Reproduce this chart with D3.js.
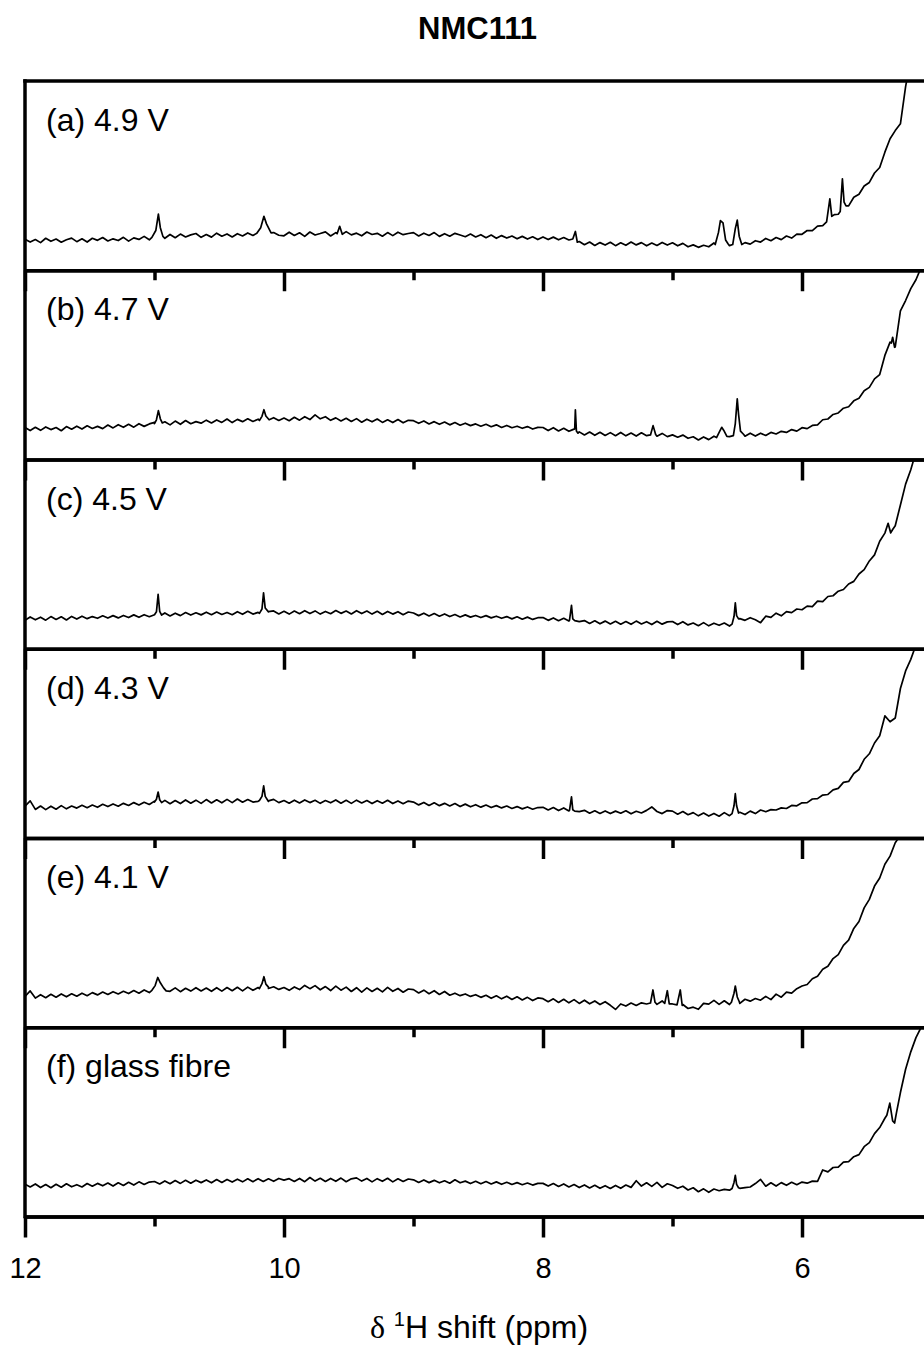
<!DOCTYPE html>
<html>
<head>
<meta charset="utf-8">
<script src="https://cdn.jsdelivr.net/npm/d3@7"></script>
<style>
  body { margin: 0; background: #fff; }
  svg { display: block; }
  text { font-family: "Liberation Sans", Arial, Helvetica, sans-serif; fill: #000; }
</style>
</head>
<body>
<svg id="chart" width="924" height="1347"></svg>
<script>
// ---- Chart text ----
const chartTitle = "NMC111";
const panelLabels = ["(a) 4.9 V", "(b) 4.7 V", "(c) 4.5 V", "(d) 4.3 V", "(e) 4.1 V", "(f) glass fibre"];
const majorTicks = [12, 10, 8, 6];
const minorTicks = [11, 9, 7];

// ---- Sampled chemical-shift axis: 12.00 ppm down to 5.04 ppm, 0.04 ppm apart ----
const gridPpm = d3.range(175).map(i => +(12 - i * 0.04).toFixed(2));

// ---- Baseline intensities on the sampled axis (one row per ppm) ----
const baseA = [
  16.4,14.9,16.2,14.6,16.9,15.3,16.5,14.8,16.1,17.0,15.1,16.6,14.9,16.9,15.8,17.3,15.5,16.6,15.7,17.4,15.4,17.1,16.3,17.9,16.1,
  17.5,17.9,16.9,18.9,17.2,19.1,17.6,18.7,19.4,17.4,18.9,17.5,19.6,18.0,19.2,17.6,19.3,18.1,19.7,18.4,19.3,19.8,19.0,19.9,18.5,
  18.2,20.1,18.4,19.8,17.9,20.2,18.6,19.4,20.3,18.1,19.9,18.5,20.4,18.7,19.6,18.2,20.2,18.9,19.5,18.0,19.9,18.3,20.1,18.8,19.4,
  19.9,18.1,19.6,18.4,19.9,17.9,19.3,18.0,19.5,18.6,17.7,19.1,17.6,18.8,17.2,18.6,16.9,18.3,17.0,18.1,16.6,17.9,16.5,17.7,16.2,
  17.6,16.2,17.5,16.1,17.3,16.0,16.4,15.2,13.5,14.9,13.1,14.6,13.3,14.8,13.0,14.5,13.2,14.9,13.4,14.6,12.9,14.4,13.1,14.7,13.3,
  14.5,12.9,14.2,12.4,13.4,12.1,13.2,12.4,14.4,14.0,14.0,13.0,13.6,13.6,14.6,13.8,15.6,14.9,16.8,15.6,17.3,16.2,18.1,17.0,19.1,
  19.0,21.0,20.9,23.3,23.6,26.0,28.0,29.6,32.0,34.0,38.6,40.2,44.5,46.4,51.4,54.3,62.4,69.5,73.8,77.4,97.0,112,125,140,155
];
const baseB = [
  16.9,15.3,17.0,15.4,17.2,15.8,16.9,15.2,17.4,16.0,17.6,16.1,17.8,16.4,17.5,16.3,18.2,16.7,18.4,17.0,18.6,17.1,18.9,17.5,18.8,
  19.6,18.0,19.9,18.3,20.3,18.6,20.6,18.9,20.0,19.2,20.8,19.3,20.9,19.6,21.4,19.5,21.2,20.0,21.5,20.1,21.3,20.8,21.0,22.1,20.6,
  21.9,20.5,22.3,20.8,22.6,21.1,23.6,21.5,22.6,20.7,22.0,20.4,21.8,20.1,21.6,19.7,21.3,19.9,21.4,19.6,21.0,19.5,21.1,19.4,20.7,
  20.5,19.1,20.4,18.8,20.0,18.6,19.8,18.3,19.5,18.1,19.2,17.9,18.8,17.6,18.6,17.3,18.3,16.9,18.0,16.8,17.6,16.5,17.4,16.1,17.0,
  16.9,15.3,16.8,15.1,16.5,14.9,16.0,14.6,13.0,14.5,12.8,14.4,12.7,14.2,12.6,14.3,12.5,14.0,12.4,14.1,12.6,13.4,12.3,13.8,12.1,
  13.0,11.8,12.9,11.2,12.0,10.3,11.9,10.5,12.3,12.4,11.9,12.1,12.9,13.5,12.3,13.9,12.4,13.9,12.7,14.3,13.5,14.9,14.3,15.8,15.0,
  16.8,16.3,18.0,18.3,21.0,21.4,23.8,24.6,27.1,27.9,31.0,32.4,36.3,38.1,42.6,44.9,55.0,62.0,59.5,78.5,84.0,90.3,95.0,101.5,106
];
const baseC = [
  15.0,16.8,15.3,16.7,15.1,17.0,15.5,16.9,15.2,17.1,15.7,17.2,15.9,17.0,16.1,17.4,16.2,17.5,16.3,17.6,16.5,17.9,16.6,18.0,16.9,
  18.0,17.6,18.9,17.3,18.8,17.5,19.1,17.8,19.0,17.9,19.3,18.0,19.4,18.1,19.2,18.0,19.6,18.2,19.8,18.3,19.2,18.8,19.5,20.0,18.4,
  19.8,18.3,19.9,18.5,20.1,18.6,20.0,18.3,19.7,18.5,20.2,18.7,19.9,18.4,20.1,18.6,19.9,18.3,19.8,18.1,19.7,18.3,19.6,18.0,19.4,
  18.9,17.5,18.8,17.3,18.6,17.2,18.4,17.0,18.1,16.8,17.9,16.7,17.6,16.5,17.5,16.3,17.2,16.1,17.0,15.8,16.9,15.6,16.7,15.5,16.4,
  16.5,15.0,16.3,14.8,16.1,14.6,15.8,14.3,14.9,13.4,14.8,13.2,14.6,13.1,14.5,13.0,14.4,12.9,14.6,13.1,14.3,12.8,14.5,13.0,14.2,
  14.4,12.8,14.3,12.6,13.6,12.2,13.8,12.1,13.5,12.4,13.6,12.0,13.0,15.9,15.0,16.4,15.3,13.8,17.2,16.6,18.8,17.4,19.6,19.1,21.0,
  20.6,22.5,22.3,25.2,24.9,27.6,28.0,30.4,31.3,34.2,35.6,39.5,41.8,46.4,49.6,56.8,61.1,66.5,65.0,76.0,87.0,94.6,104,112,120
];
const baseD = [
  16.8,19.6,15.1,16.9,15.0,16.8,15.2,17.1,15.4,16.9,15.8,17.3,16.0,17.4,16.2,17.8,16.6,18.0,16.8,18.3,17.2,18.7,17.4,18.9,17.7,
  19.5,18.6,19.9,18.1,19.8,18.2,20.1,18.4,20.0,18.3,20.3,18.5,20.2,18.6,20.4,18.7,20.6,18.9,20.3,19.0,19.4,20.1,19.3,20.4,18.7,
  19.8,18.4,20.0,18.5,20.1,18.7,19.9,18.3,19.8,18.6,20.1,18.4,19.9,18.3,20.0,18.5,19.8,18.2,19.7,18.4,19.9,18.2,19.6,18.1,19.5,
  19.0,17.5,18.8,17.2,18.6,17.1,18.3,16.9,18.2,16.6,17.9,16.5,17.6,16.3,17.4,16.1,17.1,15.9,16.9,15.6,16.6,15.4,16.4,15.2,16.1,
  16.2,14.8,16.1,14.5,15.9,14.3,15.6,13.9,14.6,13.1,14.4,13.0,14.3,12.9,14.2,13.1,14.4,12.8,14.1,13.2,14.6,16.4,14.0,12.9,14.5,
  14.2,12.6,14.0,12.3,13.4,11.7,13.2,11.6,13.0,11.5,13.4,11.8,13.0,13.6,12.4,14.2,12.9,14.8,13.9,15.0,14.8,15.9,15.6,17.2,17.0,
  18.6,18.7,20.6,20.8,22.7,23.0,25.4,26.2,29.4,29.9,34.1,36.2,41.6,44.5,50.2,54.0,64.5,61.4,63.4,79.0,88.3,94.4,102,110,118
];
const baseE = [
  16.3,19.2,15.4,17.2,15.6,17.4,15.9,17.6,16.1,17.7,16.4,18.0,16.7,18.3,17.1,18.6,17.3,18.8,17.6,19.0,17.8,19.4,18.0,19.7,18.3,
  19.9,19.3,21.1,19.0,20.8,18.8,20.6,19.1,20.9,19.2,20.7,19.0,20.9,19.1,21.0,19.3,21.1,19.2,21.2,19.5,21.0,20.4,21.2,21.4,20.0,
  21.0,19.5,21.3,19.9,22.1,20.4,22.0,19.8,21.5,19.4,21.7,19.6,21.2,18.9,20.9,18.6,20.8,18.9,20.6,18.7,21.1,19.0,20.5,18.5,20.2,
  19.9,18.1,19.6,17.7,19.3,17.3,18.9,16.9,18.0,16.7,17.6,16.3,17.2,15.8,16.9,15.3,16.6,15.0,16.4,14.7,16.1,14.4,15.8,14.1,15.5,
  15.1,13.5,15.0,13.1,14.8,12.9,14.6,12.6,14.3,12.4,13.9,12.0,13.5,11.6,9.4,12.3,11.2,12.8,11.5,12.9,12.3,13.2,12.1,13.9,12.6,
  12.3,11.2,12.0,9.9,10.6,9.5,12.6,12.2,14.2,12.1,14.0,12.0,14.4,12.6,14.8,13.8,15.2,14.3,16.3,14.6,17.5,15.9,18.6,18.0,20.4,
  21.8,22.6,25.6,27.0,30.6,32.2,36.3,38.4,43.3,46.0,52.2,55.9,63.1,67.6,74.6,78.9,86.1,90.4,97.5,101.5,108,114,120,126,132
];
const baseF = [
  17.1,15.6,17.2,15.3,16.9,15.2,17.0,15.5,17.3,15.7,16.8,15.6,17.4,16.0,17.5,16.2,17.7,16.1,17.8,16.4,18.1,16.6,18.3,16.9,18.2,
  18.5,17.2,18.8,17.3,19.0,17.5,19.1,17.6,19.2,17.9,19.3,17.8,19.5,18.0,19.6,18.2,19.7,18.3,19.9,18.4,20.0,18.5,19.9,18.6,20.1,
  19.2,20.0,18.5,20.1,18.4,20.6,18.7,20.2,18.5,20.1,18.6,20.3,18.4,19.9,20.4,18.7,20.1,18.3,20.0,18.6,20.2,18.3,19.9,18.5,19.8,
  19.4,18.0,19.3,17.9,19.1,17.8,18.9,17.6,19.4,17.8,18.7,17.4,18.6,17.3,18.5,17.2,18.3,17.0,18.1,16.9,17.9,16.8,17.7,16.6,17.5,
  17.5,16.1,17.4,15.9,17.2,15.6,16.9,15.3,16.7,15.1,16.5,14.9,16.3,14.8,16.4,14.9,16.6,15.4,18.9,16.1,17.8,15.9,18.0,15.4,17.3,
  16.4,14.9,16.0,14.0,15.2,13.1,14.6,12.8,14.5,13.6,14.3,13.9,15.0,14.9,15.3,15.6,17.4,19.6,16.0,17.8,16.1,17.9,16.5,18.1,16.8,
  18.2,17.6,18.7,18.6,24.6,23.6,25.9,26.1,28.7,29.0,31.6,32.7,36.9,39.0,43.8,47.0,51.9,57.0,52.8,65.5,77.8,87.0,94.5,100.0,107
];

// ---- Narrow resonances: [ppm, intensity] points that replace the baseline over their span ----
const peaksA = [
  [[11.02,17.4],[10.99,21.0],[10.97,29.7],[10.955,22.5],[10.935,17.9]],
  [[10.21,19.5],[10.18,22.5],[10.155,28.5],[10.135,24.5],[10.10,19.8]],
  [[9.59,19.3],[9.57,23.2],[9.55,19.0]],
  [[7.77,16.5],[7.75,20.5],[7.735,14.8]],
  [[6.67,13.6],[6.645,20.0],[6.63,26.2],[6.61,25.0],[6.59,16.0],[6.57,13.9]],
  [[6.535,13.6],[6.515,22.0],[6.50,26.5],[6.485,18.0],[6.465,13.6]],
  [[5.81,25.5],[5.785,37.7],[5.77,28.5],[5.75,29.4]],
  [[5.705,31.0],[5.688,48.3],[5.675,36.0],[5.66,34.0]]
];
const peaksB = [
  [[11.00,18.9],[10.985,21.0],[10.97,25.8],[10.955,21.5],[10.94,19.3]],
  [[10.19,20.6],[10.17,22.8],[10.155,26.3],[10.14,23.0],[10.115,21.0]],
  [[7.77,15.8],[7.755,16.2],[7.75,26.3],[7.742,15.0],[7.73,13.9]],
  [[7.17,13.0],[7.15,17.9],[7.13,13.2]],
  [[6.66,11.6],[6.635,15.0],[6.62,17.0],[6.605,15.5],[6.58,12.2]],
  [[6.53,12.6],[6.515,19.0],[6.50,32.0],[6.49,24.0],[6.475,15.0],[6.45,13.2]],
  [[5.31,61.5],[5.30,64.6],[5.285,59.3]]
];
const peaksC = [
  [[11.00,18.0],[10.985,19.5],[10.972,28.7],[10.96,19.8],[10.945,17.8]],
  [[10.19,18.7],[10.17,21.0],[10.158,29.5],[10.145,21.5],[10.12,19.6]],
  [[7.795,15.2],[7.78,22.9],[7.77,15.8],[7.755,14.9]],
  [[6.54,13.0],[6.525,17.0],[6.515,24.2],[6.505,17.5],[6.49,15.8]],
  [[5.335,66.3],[5.315,61.2],[5.30,63.0]]
];
const peaksD = [
  [[11.00,19.0],[10.985,20.5],[10.972,24.3],[10.96,20.2],[10.945,18.7]],
  [[10.19,19.8],[10.17,22.0],[10.157,27.5],[10.145,22.0],[10.12,19.6]],
  [[7.795,14.7],[7.78,21.7],[7.77,14.9],[7.755,14.2]],
  [[6.54,12.9],[6.525,17.0],[6.515,23.4],[6.505,17.0],[6.49,13.2]]
];
const peaksE = [
  [[11.02,19.5],[10.995,22.0],[10.975,26.3],[10.955,23.5],[10.93,20.8],[10.91,19.2]],
  [[10.19,20.4],[10.17,23.0],[10.155,26.7],[10.14,22.8],[10.12,20.5]],
  [[7.17,12.8],[7.151,19.7],[7.135,13.2]],
  [[7.06,12.6],[7.04,19.3],[7.025,12.4]],
  [[6.965,11.8],[6.94,19.7],[6.925,11.5]],
  [[6.545,13.2],[6.525,18.0],[6.515,21.8],[6.50,16.0],[6.485,13.6]]
];
const peaksF = [
  [[6.54,14.8],[6.525,18.0],[6.515,21.7],[6.505,17.0],[6.49,15.2]],
  [[5.345,53.5],[5.322,59.9],[5.30,50.5],[5.285,49.4],[5.27,55.0]]
];

const baselines = [baseA, baseB, baseC, baseD, baseE, baseF];
const peakSets = [peaksA, peaksB, peaksC, peaksD, peaksE, peaksF];

// Merge the sampled baseline with the resonance points, sorted by decreasing ppm.
function buildSeries(base, peaks) {
  let pts = gridPpm.map((p, i) => [p, base[i]]);
  peaks.forEach(pk => {
    const hi = pk[0][0], lo = pk[pk.length - 1][0];
    pts = pts.filter(d => !(d[0] < hi && d[0] > lo)).concat(pk);
  });
  return pts.sort((a, b) => b[0] - a[0]);
}

// ---- Layout ----
const W = 924, H = 1347;
const axisX = 25, plotTop = 81, panelH = 189.25, nPanels = 6;
const frameW = 3.5;

const svg = d3.select("#chart");
const x = d3.scaleLinear().domain([12, 5]).range([axisX, axisX + 7 * 129.5]);
const y = d3.scaleLinear().domain([0, 100]).range([panelH, 0]);
const line = d3.line().x(d => x(d[0])).y(d => y(d[1]));

svg.append("defs").append("clipPath").attr("id", "panelClip")
  .append("rect").attr("x", axisX).attr("y", 0).attr("width", W).attr("height", panelH);

svg.append("text")
  .attr("x", 477.5).attr("y", 39)
  .attr("text-anchor", "middle")
  .style("font-size", "31px").style("font-weight", "bold")
  .text(chartTitle);

panelLabels.forEach((label, k) => {
  const g = svg.append("g").attr("transform", `translate(0,${plotTop + k * panelH})`);

  g.append("path")
    .datum(buildSeries(baselines[k], peakSets[k]))
    .attr("clip-path", "url(#panelClip)")
    .attr("fill", "none")
    .attr("stroke", "#000")
    .attr("stroke-width", 1.7)
    .attr("stroke-linejoin", "round")
    .attr("d", line);

  g.append("text")
    .attr("x", 46).attr("y", 50)
    .style("font-size", "32px")
    .text(label);

  const isLast = k === nPanels - 1;
  const minorAxis = g.append("g").attr("transform", `translate(0,${panelH})`)
    .call(d3.axisBottom(x).tickValues(minorTicks).tickSize(10).tickSizeOuter(0).tickFormat(""));
  const majorAxis = g.append("g").attr("transform", `translate(0,${panelH})`)
    .call(d3.axisBottom(x).tickValues(majorTicks).tickSize(21).tickSizeOuter(0).tickPadding(20)
      .tickFormat(isLast ? d3.format("d") : () => ""));

  [minorAxis, majorAxis].forEach(a => {
    a.select(".domain").attr("stroke", "#000").attr("stroke-width", frameW);
    a.selectAll(".tick line").attr("stroke", "#000").attr("stroke-width", frameW);
    a.selectAll(".tick text")
      .attr("fill", "#000")
      .style("font-size", "29px")
      .style("font-family", "\"Liberation Sans\", Arial, sans-serif");
  });
});

// Frame: top border and left axis line
svg.append("line")
  .attr("x1", axisX).attr("x2", W + 10)
  .attr("y1", plotTop).attr("y2", plotTop)
  .attr("stroke", "#000").attr("stroke-width", frameW).attr("stroke-linecap", "square");
svg.append("line")
  .attr("x1", axisX).attr("x2", axisX)
  .attr("y1", plotTop).attr("y2", plotTop + nPanels * panelH)
  .attr("stroke", "#000").attr("stroke-width", frameW).attr("stroke-linecap", "square");

// X-axis title: δ ¹H shift (ppm)
const xTitle = svg.append("text")
  .attr("x", 479).attr("y", 1338)
  .attr("text-anchor", "middle")
  .style("font-size", "32px");
xTitle.append("tspan").style("font-family", "\"Liberation Serif\", \"Times New Roman\", serif").text("δ");
xTitle.append("tspan").text(" ");
xTitle.append("tspan").attr("dy", -12).style("font-size", "20px").text("1");
xTitle.append("tspan").attr("dy", 12).text("H shift (ppm)");
</script>
</body>
</html>
